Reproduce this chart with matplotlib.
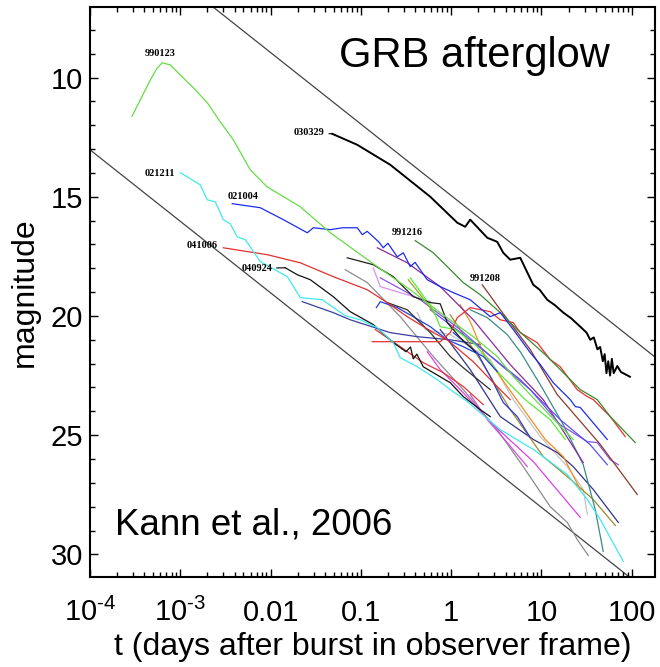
import numpy as np
import matplotlib.pyplot as plt
from matplotlib.ticker import LogLocator, MultipleLocator, NullFormatter

plt.rcParams['font.family'] = ['Liberation Sans', 'DejaVu Sans']
plt.rcParams['mathtext.fontset'] = 'custom'
plt.rcParams['mathtext.rm'] = 'Liberation Sans'
plt.rcParams['mathtext.default'] = 'regular'

# light curves: log10(t / days) and R magnitude
lgt_030329 = [-1.317, -1.04, -0.674, -0.231, 0.068, 0.156, 0.211, 0.40, 0.51, 0.577, 0.654,
              0.765, 0.909, 0.98, 1.064, 1.15, 1.242, 1.33, 1.43, 1.50, 1.54, 1.58, 1.62, 1.65,
              1.68, 1.70, 1.72, 1.74, 1.76, 1.78, 1.80, 1.84, 1.88, 1.93, 1.98]
mag_030329 = [12.36, 12.82, 13.66, 15.0, 16.09, 16.26, 15.96, 16.72, 16.89, 17.35, 17.64,
              17.56, 18.69, 18.9, 19.32, 19.55, 19.86, 20.1, 20.45, 20.7, 21.0, 20.9, 21.4, 21.3,
              21.9, 21.6, 22.4, 21.9, 22.5, 21.8, 22.4, 22.1, 22.35, 22.45, 22.55]

lgt_990123 = [-3.535, -3.442, -3.332, -3.258, -3.20, -3.111, -3.0, -2.854, -2.70, -2.557,
              -2.413, -2.225, -2.04, -1.671, -1.339, -0.863, -0.453, -0.121, 0.245, 0.51,
              0.688, 0.876, 1.064, 1.352]
mag_990123 = [11.63, 10.93, 10.10, 9.61, 9.38, 9.47, 9.89, 10.43, 11.06, 11.86,
              12.61, 13.87, 14.58, 15.42, 16.51, 17.81, 18.90, 19.86, 20.87, 21.70,
              22.54, 23.30, 24.05, 25.18]

lgt_021211 = [-3.0, -2.779, -2.701, -2.612, -2.524, -2.446, -2.369, -2.28, -2.114, -1.815,
              -1.671, -1.427, -1.173, -1.007, -0.819, -0.641, -0.564, -0.375, -0.154, -0.01,
              0.178, 0.544, 0.91, 1.286, 1.508, 1.652, 1.907]
mag_021211 = [13.99, 14.50, 15.13, 15.21, 15.96, 16.14, 16.68, 16.80, 17.72, 18.35,
              19.23, 19.32, 19.99, 20.16, 20.49, 21.12, 21.75, 22.13, 22.67, 23.09,
              23.59, 24.77, 25.60, 26.65, 27.70, 28.54, 30.30]

lgt_021004 = [-2.424, -2.114, -1.859, -1.593, -1.527, -1.339, -1.2, -1.04, -0.984, -0.93,
              -0.863, -0.80, -0.752, -0.70, -0.597, -0.53, -0.453, -0.40, -0.265, -0.121,
              0.023, 0.211, 0.433, 0.544, 0.688, 0.876, 0.987, 1.131, 1.319, 1.375, 1.43, 1.729]
mag_021004 = [15.29, 15.46, 15.96, 16.51, 16.30, 16.38, 16.30, 16.30, 16.59, 16.45,
              16.68, 16.9, 17.14, 16.95, 17.52, 17.35, 17.93, 17.75, 18.48, 18.77,
              19.02, 19.32, 20.03, 19.86, 20.57, 21.54, 22.04, 22.80, 23.51, 23.80, 23.84, 25.18]

lgt_041006 = [-2.524, -2.036, -1.671, -1.306, -0.929, -0.708, -0.486, -0.198, -0.043, 0.245, 0.488, 0.654]
mag_041006 = [17.14, 17.43, 17.77, 18.35, 18.90, 19.44, 20.03, 20.70, 21.0, 21.92, 22.88, 23.51]

lgt_040924 = [-1.837, -1.704, -1.56, -1.306, -1.118, -0.863, -0.641, -0.50, -0.45, -0.42,
              -0.38, -0.309, -0.198, -0.01, 0.134, 0.322, 0.433]
mag_040924 = [17.98, 18.27, 18.48, 19.19, 19.82, 20.36, 21.12, 21.5, 21.3, 21.8,
              21.6, 22.13, 22.38, 22.80, 23.38, 23.93, 24.22]

lgt_991216 = [-0.398, -0.198, -0.043, 0.134, 0.322, 0.544, 0.732, 1.064, 1.208, 1.43, 1.618, 1.762, 2.039]
mag_991216 = [16.84, 17.35, 17.93, 18.60, 19.11, 19.86, 20.57, 21.70, 22.25, 23.09, 23.51, 24.22, 25.31]

lgt_991208 = [0.344, 0.544, 0.876, 1.175, 1.652, 2.061]
mag_991208 = [18.69, 19.74, 21.41, 23.30, 25.39, 27.49]

lgt_red_a = [-0.874, -0.564, -0.121, -0.01, 0.068, 0.211, 0.433, 0.544, 0.688, 0.765,
             0.953, 1.097, 1.208, 1.396, 1.507, 1.574, 1.762, 1.928]
mag_red_a = [21.08, 21.08, 21.08, 20.70, 20.07, 19.65, 19.82, 20.16, 20.28, 20.70,
             21.12, 21.83, 22.13, 23.09, 23.38, 23.51, 24.22, 25.06]

lgt_red_b = [-0.841, -0.564, -0.309, -0.087, 0.134, 0.356]
mag_red_b = [20.57, 21.29, 21.96, 22.38, 22.96, 23.72]

lgt_purple = [-0.818, -0.486, -0.121, 0.245, 0.654, 1.02, 1.463]
mag_purple = [17.14, 17.77, 18.77, 20.16, 22.04, 23.51, 26.15]

lgt_teal = [0.211, 0.40, 0.621, 0.765, 0.987, 1.242, 1.463, 1.596, 1.684]
mag_teal = [19.74, 20.07, 20.78, 21.50, 22.88, 24.56, 26.24, 28.12, 29.88]

lgt_violet = [-0.785, -0.342, 0.10, 0.544, 0.876, 1.208, 1.35, 1.508, 1.618, 1.762, 1.851]
mag_violet = [18.40, 19.32, 20.57, 22.04, 23.09, 24.56, 24.9, 25.27, 25.31, 26.03, 26.24]

lgt_slate = [-0.231, 0.211, 0.765, 1.208, 1.54, 1.729]
mag_slate = [19.74, 21.0, 22.67, 24.35, 25.40, 26.24]

lgt_navy_a = [-1.649, -1.306, -1.118, -0.674, -0.375, -0.01, 0.322]
mag_navy_a = [19.40, 19.86, 20.16, 20.70, 20.87, 21.0, 21.20]

lgt_navy_b = [-0.121, 0.211, 0.544, 0.91, 1.175, 1.352, 1.574, 1.851]
mag_navy_b = [20.57, 22.25, 24.22, 25.18, 25.73, 26.32, 27.28, 28.66]

lgt_olive = [-0.01, 0.322, 0.654, 1.02, 1.286, 1.574, 1.818]
mag_olive = [19.95, 21.83, 23.93, 25.90, 26.74, 27.70, 28.79]

lgt_orange = [0.10, 0.211, 0.356, 0.621, 0.765, 1.042, 1.242, 1.43]
mag_orange = [19.53, 20.24, 21.54, 22.96, 23.72, 25.18, 25.90, 27.28]

lgt_magenta_a = [-0.265, -0.121, 0.10, 0.466, 0.91, 1.43]
mag_magenta_a = [21.50, 22.25, 23.09, 24.56, 26.11, 28.45]

lgt_magenta_b = [0.211, 0.40, 0.621, 0.843]
mag_magenta_b = [23.30, 24.35, 25.31, 26.32]

lgt_silver = [-0.375, -0.287, -0.01, 0.433, 0.688, 0.987, 1.286, 1.463, 1.508]
mag_silver = [19.86, 20.57, 20.78, 21.83, 23.51, 25.06, 26.32, 27.28, 28.33]

lgt_gray = [-1.173, -0.929, -0.564, -0.198, 0.134, 0.51, 0.798, 1.097, 1.286, 1.397, 1.519]
mag_gray = [18.06, 18.60, 20.03, 21.70, 23.09, 24.77, 26.32, 28.0, 28.66, 29.38, 30.05]

lgt_black_a = [-1.151, -0.863, -0.641, -0.42, -0.231, -0.121, -0.043, 0.10, 0.267]
mag_black_a = [17.56, 17.85, 18.35, 19.19, 19.44, 19.49, 20.28, 20.91, 21.50]

lgt_black_b = [-0.708, -0.486, -0.375, -0.231, -0.121, -0.01, 0.134, 0.433]
mag_black_b = [19.44, 19.74, 20.16, 20.70, 21.20, 21.70, 22.17, 23.09]

lgt_lilac = [-0.863, -0.785, -0.564, -0.231]
mag_lilac = [17.98, 18.77, 19.02, 19.40]

lgt_lime = [-0.453, -0.342, -0.198, -0.121, 0.045, 0.267, 0.544, 0.82, 1.097, 1.264]
mag_lime = [18.40, 18.98, 19.74, 20.45, 20.57, 21.20, 22.46, 23.51, 24.35, 25.18]

lgt_khaki = [-0.475, -0.342, -0.176]
mag_khaki = [18.48, 19.11, 19.95]

lgt_blue_a = [-0.829, -0.785, -0.597, -0.42, -0.231, -0.043, 0.134, 0.356, 0.51]
mag_blue_a = [19.65, 19.40, 19.65, 20.03, 20.45, 21.0, 21.29, 21.70, 22.33]

lgt_blue_b = [0.023, 0.289, 0.433, 0.577, 0.732, 0.876]
mag_blue_b = [20.70, 21.54, 22.54, 23.63, 24.22, 25.10]

# t^-1.2 envelope lines (3 mag per decade), intercepts at t = 1 day
guide_slope = 3.0
guide_offsets = [14.95, 25.03]

grb_names = ['990123', '030329', '021211', '021004', '041006', '040924', '991216', '991208']
name_lgt = [-3.221, -1.40, -3.221, -2.302, -2.756, -1.98, -0.486, 0.378]
name_mag = [9.01, 12.32, 14.04, 15.0, 17.05, 18.0, 16.51, 18.44]

xtick_vals = [1e-4, 1e-3, 0.01, 0.1, 1, 10, 100]
xtick_text = [r'10$^{\text{-}4}$', r'10$^{\text{-}3}$', '0.01', '0.1', '1', '10', '100']
ytick_vals = [10, 15, 20, 25, 30]

curves = [
    (lgt_gray, mag_gray, '#8c8c8c', 0.9),
    (lgt_silver, mag_silver, '#c4c4c4', 0.9),
    (lgt_navy_a, mag_navy_a, '#3a3f9e', 0.9),
    (lgt_navy_b, mag_navy_b, '#2f358a', 0.9),
    (lgt_olive, mag_olive, '#9a8a2e', 0.9),
    (lgt_orange, mag_orange, '#f08c20', 0.9),
    (lgt_magenta_a, mag_magenta_a, '#e040e8', 0.9),
    (lgt_magenta_b, mag_magenta_b, '#d24ee0', 0.9),
    (lgt_teal, mag_teal, '#3a8a8a', 0.9),
    (lgt_purple, mag_purple, '#8a2aa0', 0.9),
    (lgt_violet, mag_violet, '#8a55e6', 0.9),
    (lgt_slate, mag_slate, '#5a52e8', 0.9),
    (lgt_lilac, mag_lilac, '#d890ea', 0.9),
    (lgt_khaki, mag_khaki, '#a0a030', 0.9),
    (lgt_lime, mag_lime, '#55ee33', 0.9),
    (lgt_blue_a, mag_blue_a, '#2040e0', 0.9),
    (lgt_blue_b, mag_blue_b, '#2a3ad8', 0.9),
    (lgt_black_a, mag_black_a, '#1e1e1e', 0.9),
    (lgt_black_b, mag_black_b, '#303030', 0.9),
    (lgt_red_b, mag_red_b, '#e03838', 0.9),
    (lgt_red_a, mag_red_a, '#e83030', 0.9),
    (lgt_991208, mag_991208, '#8b3a2e', 0.9),
    (lgt_991216, mag_991216, '#3a8a30', 0.9),
    (lgt_041006, mag_041006, '#e03030', 0.9),
    (lgt_040924, mag_040924, '#111111', 0.9),
    (lgt_021211, mag_021211, '#3ee8f0', 0.9),
    (lgt_021004, mag_021004, '#1a2ee8', 0.9),
    (lgt_990123, mag_990123, '#66dd44', 0.9),
    (lgt_030329, mag_030329, '#000000', 1.4),
]

fig = plt.figure(figsize=(6.6, 6.67), dpi=100)
ax = fig.add_axes([90 / 660, 1 - 577 / 667, 565 / 660, 570 / 667])

ax.set_xscale('log')
ax.set_xlim(1e-4, 181)
ax.set_ylim(30.95, 7.04)

grid = np.linspace(-5, 3, 50)
for off in guide_offsets:
    ax.plot(10 ** grid, off + guide_slope * grid, color='#444444', lw=0.9, zorder=1)

for lgt, mag, col, lw in curves:
    ax.plot(10 ** np.array(lgt), mag, color=col, lw=lw, zorder=2)

label_font = dict(family=['Liberation Serif', 'DejaVu Serif'], weight='bold', fontsize=7.5)
curve_start = {'030329': (lgt_030329[0], mag_030329[0]), '040924': (lgt_040924[0], mag_040924[0])}
for name, lx, ly in zip(grb_names, name_lgt, name_mag):
    if name in curve_start:
        sx, sy = curve_start[name]
        ax.annotate(name, xy=(10 ** sx, sy), xytext=(10 ** lx, ly), ha='right', va='center',
                    arrowprops=dict(arrowstyle='-', lw=0.8, color='black', shrinkA=1, shrinkB=0),
                    **label_font)
    else:
        ax.text(10 ** lx, ly, name, ha='center', va='center', **label_font)

ax.text(0.681, 0.895, 'GRB afterglow', transform=ax.transAxes, ha='center', va='baseline', fontsize=30)
ax.text(0.044, 0.074, 'Kann et al., 2006', transform=ax.transAxes, ha='left', va='baseline', fontsize=26.5)

ax.set_xticks(xtick_vals, labels=xtick_text, va='baseline')
ax.xaxis.set_minor_locator(LogLocator(base=10, subs=np.arange(2, 10), numticks=20))
ax.xaxis.set_minor_formatter(NullFormatter())
ax.set_yticks(ytick_vals)
ax.yaxis.set_minor_locator(MultipleLocator(1))

ax.tick_params(which='both', direction='in', top=True, right=True, width=1, labelsize=21)
ax.tick_params(which='major', length=6)
ax.tick_params(which='minor', length=3.5)
ax.tick_params(axis='x', which='major', pad=32)
ax.tick_params(axis='y', which='major', pad=5)
for s in ax.spines.values():
    s.set_linewidth(1.5)

ax.set_xlabel('t (days after burst in observer frame)', fontsize=23)
ax.set_ylabel('magnitude', fontsize=23)
ax.xaxis.set_label_coords(0.5, -0.0965)
ax.yaxis.set_label_coords(-0.089, 0.5)

fig.savefig('out.png', dpi=100)
